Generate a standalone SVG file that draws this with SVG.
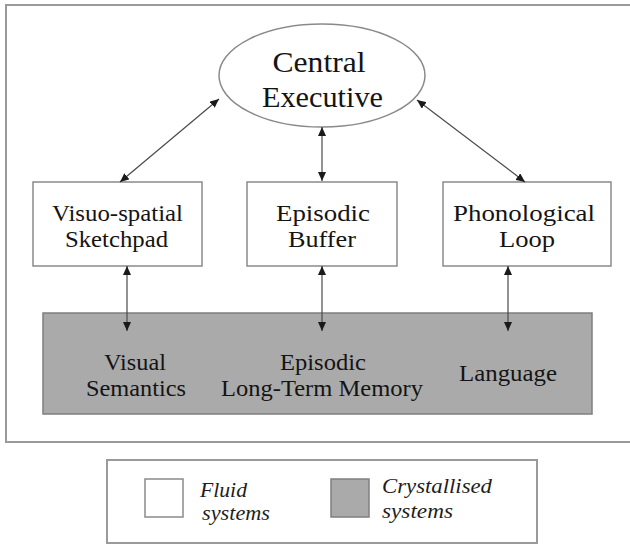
<svg xmlns="http://www.w3.org/2000/svg" width="630" height="544" viewBox="0 0 630 544">
  <style>
    .frame { fill: #ffffff; stroke: #9a9a9a; stroke-width: 2; }
    .fluid { fill: #ffffff; stroke: #8a8a8a; stroke-width: 1.5; }
    .cryst { fill: #aaaaaa; stroke: #7f7f7f; stroke-width: 1.5; }
    .label { fill: #141414; text-anchor: middle; }
    .big { font-size: 29px; }
    .mid { font-size: 23px; }
    .small { font-size: 22.5px; }
    .key { font-style: italic; font-size: 22px; fill: #1e1e1e; }
    .link { stroke: #4a4a4a; stroke-width: 1.2; fill: none; marker-start: url(#head); marker-end: url(#head); }
  </style>
  <defs>
    <marker id="head" viewBox="0 0 9 8" refX="9" refY="4" markerWidth="9" markerHeight="8" markerUnits="userSpaceOnUse" orient="auto-start-reverse">
      <path d="M0,0 L9,4 L0,8 z" fill="#1a1a1a"/>
    </marker>
  </defs>

  <rect width="630" height="544" fill="#ffffff"/>

  <!-- outer panel -->
  <rect class="frame" x="6" y="5" width="640" height="437"/>

  <g font-family="Liberation Serif, Times New Roman, serif">
    <!-- crystallised layer -->
    <g id="crystallised">
      <rect class="cryst" x="43" y="313" width="549" height="101"/>
      <text class="label small" x="135" y="370" textLength="62" lengthAdjust="spacingAndGlyphs">Visual</text>
      <text class="label small" x="136" y="396" textLength="100" lengthAdjust="spacingAndGlyphs">Semantics</text>
      <text class="label small" x="323" y="370" textLength="86" lengthAdjust="spacingAndGlyphs">Episodic</text>
      <text class="label small" x="322" y="396" textLength="202" lengthAdjust="spacingAndGlyphs">Long-Term Memory</text>
      <text class="label small" x="508" y="381" textLength="98" lengthAdjust="spacingAndGlyphs">Language</text>
    </g>

    <g id="central-executive">
      <ellipse class="fluid" cx="322" cy="75.5" rx="103" ry="51.5"/>
      <text class="label big" x="319" y="72" textLength="93" lengthAdjust="spacingAndGlyphs">Central</text>
      <text class="label big" x="322.5" y="107" textLength="121" lengthAdjust="spacingAndGlyphs">Executive</text>
    </g>

    <g id="visuo-spatial-sketchpad">
      <rect class="fluid" x="33" y="182" width="169" height="84"/>
      <text class="label mid" x="117.5" y="221" textLength="131" lengthAdjust="spacingAndGlyphs">Visuo-spatial</text>
      <text class="label mid" x="116.5" y="247" textLength="103" lengthAdjust="spacingAndGlyphs">Sketchpad</text>
    </g>

    <g id="episodic-buffer">
      <rect class="fluid" x="247" y="182" width="150" height="84"/>
      <text class="label mid" x="323" y="221" textLength="94" lengthAdjust="spacingAndGlyphs">Episodic</text>
      <text class="label mid" x="322" y="247" textLength="68" lengthAdjust="spacingAndGlyphs">Buffer</text>
    </g>

    <g id="phonological-loop">
      <rect class="fluid" x="443" y="182" width="168" height="84"/>
      <text class="label mid" x="524" y="221" textLength="142" lengthAdjust="spacingAndGlyphs">Phonological</text>
      <text class="label mid" x="527" y="247" textLength="56" lengthAdjust="spacingAndGlyphs">Loop</text>
    </g>

    <g id="legend">
      <rect class="frame" x="107" y="460" width="430" height="83"/>
      <rect class="fluid" x="145" y="479" width="38" height="38"/>
      <text class="key" x="200" y="497" textLength="47" lengthAdjust="spacingAndGlyphs">Fluid</text>
      <text class="key" x="202" y="520" textLength="68" lengthAdjust="spacingAndGlyphs">systems</text>
      <rect class="cryst" x="331" y="479" width="38" height="38"/>
      <text class="key" x="382" y="493" textLength="110" lengthAdjust="spacingAndGlyphs">Crystallised</text>
      <text class="key" x="382" y="518" textLength="71" lengthAdjust="spacingAndGlyphs">systems</text>
    </g>
  </g>

  <g id="connectors">
    <line class="link" x1="219" y1="99" x2="120" y2="182"/>
    <line class="link" x1="322" y1="127" x2="322" y2="181"/>
    <line class="link" x1="417" y1="100" x2="525" y2="182"/>
    <line class="link" x1="127" y1="266" x2="127" y2="331"/>
    <line class="link" x1="322" y1="266" x2="322" y2="331"/>
    <line class="link" x1="508" y1="266" x2="508" y2="331"/>
  </g>
</svg>
